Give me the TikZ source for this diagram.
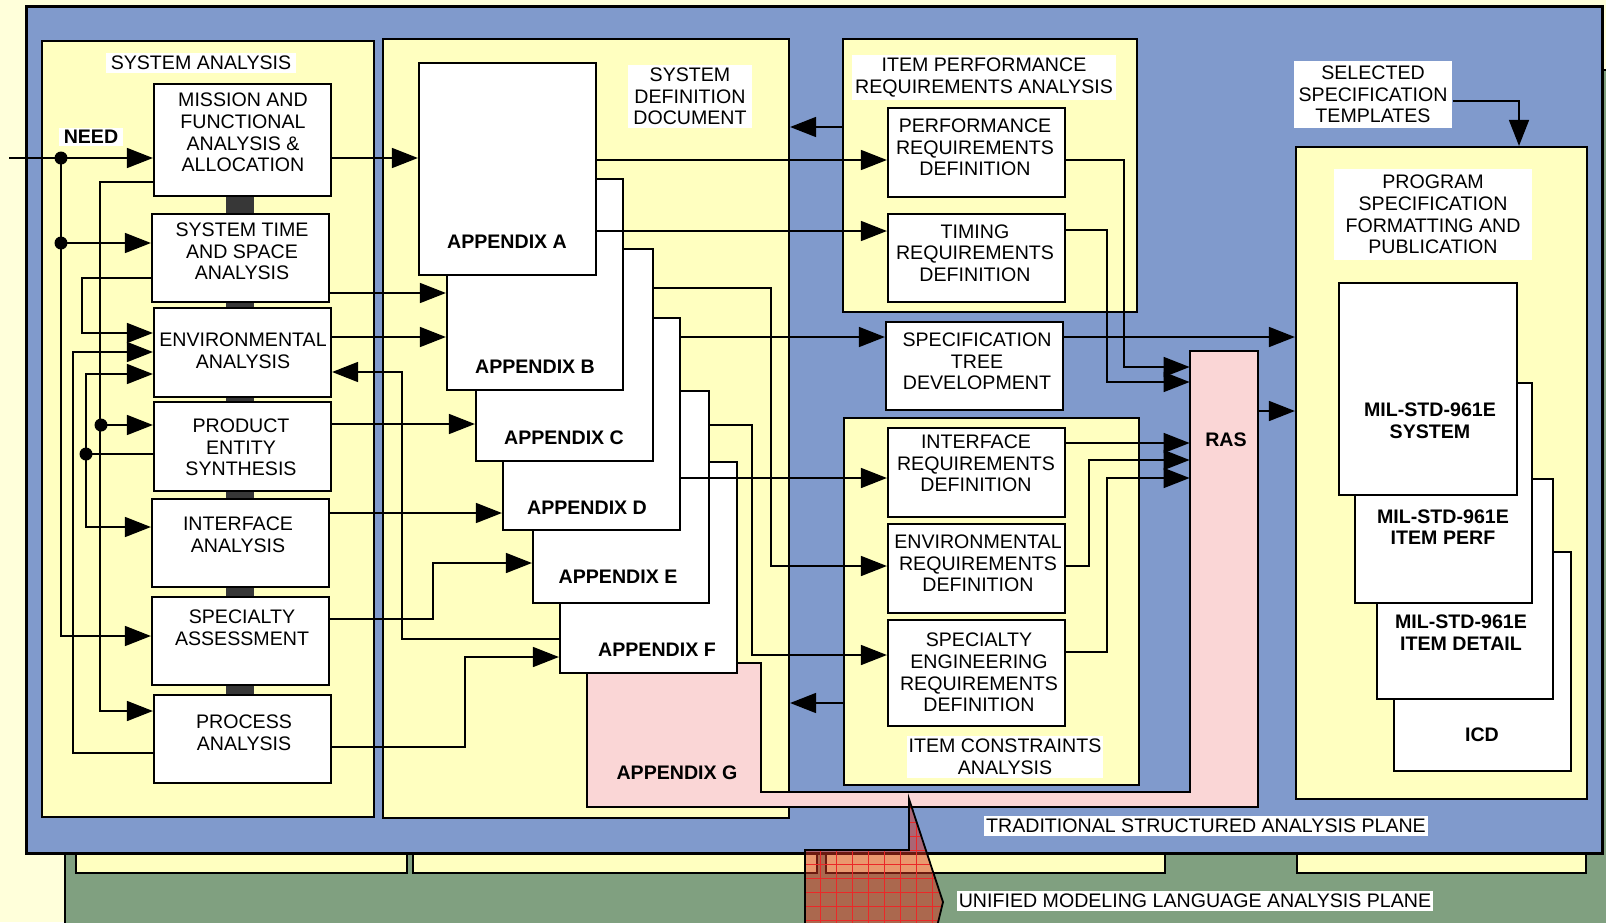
\documentclass[tikz,border=0pt]{standalone}
\usepackage{fontspec}
\setmainfont{Liberation Sans}
\usetikzlibrary{arrows.meta,fit}

\definecolor{cream}{RGB}{255,255,218}
\definecolor{panelyellow}{RGB}{255,255,192}
\definecolor{planeblue}{RGB}{128,154,204}
\definecolor{planegreen}{RGB}{128,160,128}
\definecolor{raspink}{RGB}{250,214,214}
\definecolor{overlayred}{RGB}{215,50,30}
\definecolor{gridred}{RGB}{235,40,40}
\definecolor{barshade}{RGB}{55,55,55}

\tikzset{
  x=0.5pt, y=-0.5pt,
  every node/.style={font=\fontsize{9.8}{10.8}\selectfont},
  frame/.style={draw=black, line width=1.1pt, inner sep=0pt},
  panel/.style={frame, fill=panelyellow},
  whitebox/.style={frame, fill=white},
  txt/.style={align=center, inner sep=0pt},
  btxt/.style={txt, font=\fontsize{9.8}{10.8}\selectfont\bfseries},
  tag/.style={align=center, fill=white, inner xsep=2.5pt, inner ysep=1.5pt},
  conn/.style={draw=black, line width=0.8pt},
  arr/.style={conn, -{Triangle[length=13pt,width=10pt]}},
  junction/.style={circle, fill=black, inner sep=0pt, minimum size=6.5pt},
  hidden/.style={inner sep=0pt}
}

\begin{document}
\begin{tikzpicture}
\useasboundingbox (0,0) rectangle (1606,922);
\clip (0,0) rectangle (1606,922);
\fill[cream] (0,0) rectangle (1606,922);

% ---------- UML analysis plane (behind) ----------
\node[frame, fill=planegreen, fit={(65,70) (1650,960)}] (umlplane) {};
\node[panel, fit={(76,820) (407,873)}] (umlA) {};
\node[panel, fit={(413,820) (817,873)}] (umlB) {};
\node[panel, fit={(826,820) (1165,873)}] (umlC) {};
\node[panel, fit={(1297,820) (1586,873)}] (umlD) {};

% ---------- traditional structured analysis plane ----------
\node[frame, fill=planeblue, line width=1.5pt, fit={(26,6) (1602,853)}] (tsplane) {};

% panels
\node[panel, fit={(42,41) (374,817)}] (sa) {};
\node[panel, fit={(383,39) (789,818)}] (sdd) {};
\node[panel, fit={(843,39) (1137,312)}] (ipra) {};
\node[panel, fit={(844,418) (1139,785)}] (ica) {};
\node[panel, fit={(1296,147) (1587,799)}] (psf) {};

% panel titles
\node[tag] (satitle) at (201,63) {SYSTEM ANALYSIS};
\node[tag] (sddtitle) at (690,96.5) {SYSTEM\\DEFINITION\\DOCUMENT};
\node[tag, inner xsep=1.5pt] (ipratitle) at (984,77.5) {ITEM PERFORMANCE\\REQUIREMENTS ANALYSIS};
\node[tag, inner xsep=1pt] (icatitle) at (1005,757) {ITEM CONSTRAINTS\\ANALYSIS};
\node[tag, inner xsep=6pt, inner ysep=3pt] (psftitle) at (1433,214.5) {PROGRAM\\SPECIFICATION\\FORMATTING AND\\PUBLICATION};
\node[tag, inner ysep=2.5pt] (templates) at (1373,94.5) {SELECTED\\SPECIFICATION\\TEMPLATES};
\node[tag, font=\fontsize{9.8}{10.8}\selectfont\bfseries, inner ysep=1pt] (need) at (91,137) {NEED};

% ---------- system analysis column ----------
\fill[barshade] (226,190) rectangle (254,700);
\node[whitebox, fit={(154,84) (331,196)}] (mission) {};
\node[whitebox, fit={(152,214) (329,302)}] (timespace) {};
\node[whitebox, fit={(154,308) (331,397)}] (envan) {};
\node[whitebox, fit={(154,402) (331,491)}] (product) {};
\node[whitebox, fit={(152,499) (329,587)}] (ifan) {};
\node[whitebox, fit={(152,597) (329,685)}] (specas) {};
\node[whitebox, fit={(154,695) (331,783)}] (process) {};

\node[txt] (t1) at (243,132.5) {MISSION AND\\FUNCTIONAL\\ANALYSIS \&\\ALLOCATION};
\node[txt] (t2) at (242,251.5) {SYSTEM TIME\\AND SPACE\\ANALYSIS};
\node[txt] (t3) at (243,350.5) {ENVIRONMENTAL\\ANALYSIS};
\node[txt] (t4) at (241,447.5) {PRODUCT\\ENTITY\\SYNTHESIS};
\node[txt] (t5) at (238,535) {INTERFACE\\ANALYSIS};
\node[txt] (t6) at (242,627.5) {SPECIALTY\\ASSESSMENT};
\node[txt] (t7) at (244,733) {PROCESS\\ANALYSIS};

% ---------- appendices and RAS ----------
\draw[frame, fill=raspink] (587,663) -- (761,663) -- (761,792) -- (1190,792)
  -- (1190,351) -- (1258,351) -- (1258,807) -- (587,807) -- cycle;
\node[hidden, fit={(587,663) (761,807)}] (appG) {};
\node[hidden, fit={(1190,351) (1258,792)}] (ras) {};
\node[whitebox, fit={(560,462) (737,673)}] (appF) {};
\node[whitebox, fit={(533,391) (709,603)}] (appE) {};
\node[whitebox, fit={(503,318) (680,530)}] (appD) {};
\node[whitebox, fit={(476,249) (653,461)}] (appC) {};
\node[whitebox, fit={(447,179) (623,390)}] (appB) {};
\node[whitebox, fit={(419,63) (596,275)}] (appA) {};

\node[btxt] (lA) at (507,242) {APPENDIX A};
\node[btxt] (lB) at (535,367) {APPENDIX B};
\node[btxt] (lC) at (564,438) {APPENDIX C};
\node[btxt] (lD) at (587,508) {APPENDIX D};
\node[btxt] (lE) at (618,577) {APPENDIX E};
\node[btxt] (lF) at (657,650) {APPENDIX F};
\node[btxt] (lG) at (677,773) {APPENDIX G};
\node[btxt] (lR) at (1226,440) {RAS};

% ---------- requirement definition boxes ----------
\node[whitebox, fit={(888,108) (1065,197)}] (perfreq) {};
\node[whitebox, fit={(888,214) (1065,302)}] (timing) {};
\node[whitebox, fit={(886,322) (1063,410)}] (spectree) {};
\node[whitebox, fit={(888,428) (1065,517)}] (ifreq) {};
\node[whitebox, fit={(888,524) (1065,613)}] (envreq) {};
\node[whitebox, fit={(888,620) (1065,726)}] (speceng) {};

\node[txt] (r1) at (975,147.5) {PERFORMANCE\\REQUIREMENTS\\DEFINITION};
\node[txt] (r2) at (975,253) {TIMING\\REQUIREMENTS\\DEFINITION};
\node[txt] (r3) at (977,361.5) {SPECIFICATION\\TREE\\DEVELOPMENT};
\node[txt] (r4) at (976,463.5) {INTERFACE\\REQUIREMENTS\\DEFINITION};
\node[txt] (r5) at (978,563.5) {ENVIRONMENTAL\\REQUIREMENTS\\DEFINITION};
\node[txt] (r6) at (979,672.5) {SPECIALTY\\ENGINEERING\\REQUIREMENTS\\DEFINITION};

% ---------- specification documents ----------
\node[whitebox, fit={(1394,552) (1571,771)}] (icd) {};
\node[whitebox, fit={(1377,479) (1553,699)}] (mildetail) {};
\node[whitebox, fit={(1355,383) (1532,603)}] (milperf) {};
\node[whitebox, fit={(1339,283) (1517,495)}] (milsys) {};
\node[btxt] (d1) at (1430,420.5) {MIL-STD-961E\\SYSTEM};
\node[btxt] (d2) at (1443,527) {MIL-STD-961E\\ITEM PERF};
\node[btxt] (d3) at (1461,632.5) {MIL-STD-961E\\ITEM DETAIL};
\node[btxt] (d4) at (1482,735) {ICD};

% ---------- connectors: system analysis ----------
\coordinate (needsrc) at (9,158);
\node[junction] (j1) at (61,158) {};
\node[junction] (j2) at (61,243) {};
\node[junction] (j3) at (101,425) {};
\node[junction] (j4) at (86,454) {};

\draw[arr] (needsrc) -- (mission.west |- 0,158);
\draw[arr] (j1.center) -- (61,636) -- (specas.west |- 0,636);
\draw[arr] (j2.center) -- (timespace.west |- 0,243);
\draw[arr] (mission.west |- 0,182) -- (100,182) -- (100,711) -- (process.west |- 0,711);
\draw[arr] (j3.center) -- (product.west |- 0,425);
\draw[arr] (timespace.west |- 0,278) -- (82,278) -- (82,333) -- (envan.west |- 0,333);
\draw[arr] (process.west |- 0,753) -- (73,753) -- (73,352) -- (envan.west |- 0,352);
\draw[arr] (product.west |- 0,454) -- (86,454) -- (86,374) -- (envan.west |- 0,374);
\draw[arr] (j4.center) -- (86,527) -- (ifan.west |- 0,527);
\draw[arr] (appF.west |- 0,639) -- (402,639) -- (402,372) -- (envan.east |- 0,372);

% system analysis to appendices
\draw[arr] (mission.east |- 0,158) -- (appA.west |- 0,158);
\draw[arr] (timespace.east |- 0,293) -- (appB.west |- 0,293);
\draw[arr] (envan.east |- 0,337) -- (appB.west |- 0,337);
\draw[arr] (product.east |- 0,424) -- (appC.west |- 0,424);
\draw[arr] (ifan.east |- 0,513) -- (appD.west |- 0,513);
\draw[arr] (specas.east |- 0,619) -- (433,619) -- (433,563) -- (appE.west |- 0,563);
\draw[arr] (process.east |- 0,747) -- (465,747) -- (465,657) -- (appF.west |- 0,657);

% appendices to requirement definition
\draw[arr] (appA.east |- 0,160) -- (perfreq.west |- 0,160);
\draw[arr] (appA.east |- 0,231) -- (timing.west |- 0,231);
\draw[arr] (appC.east |- 0,288) -- (771,288) -- (771,566) -- (envreq.west |- 0,566);
\draw[arr] (appD.east |- 0,337) -- (spectree.west |- 0,337);
\draw[arr] (appD.east |- 0,478) -- (ifreq.west |- 0,478);
\draw[arr] (appE.east |- 0,425) -- (752,425) -- (752,655) -- (speceng.west |- 0,655);
\draw[arr] (ipra.west |- 0,127) -- (sdd.east |- 0,127);
\draw[arr] (ica.west |- 0,703) -- (sdd.east |- 0,703);

% requirement definition to RAS and publication
\draw[arr] (perfreq.east |- 0,160) -- (1124,160) -- (1124,367) -- (ras.west |- 0,367);
\draw[arr] (timing.east |- 0,230) -- (1107,230) -- (1107,382) -- (ras.west |- 0,382);
\draw[arr] (spectree.east |- 0,337) -- (psf.west |- 0,337);
\draw[arr] (ras.east |- 0,411) -- (psf.west |- 0,411);
\draw[arr] (ifreq.east |- 0,443) -- (ras.west |- 0,443);
\draw[arr] (envreq.east |- 0,566) -- (1089,566) -- (1089,460) -- (ras.west |- 0,460);
\draw[arr] (speceng.east |- 0,652) -- (1107,652) -- (1107,478) -- (ras.west |- 0,478);
\draw[arr] (templates.east |- 0,101) -- (1519,101) -- (psf.north -| 1519,0);

% ---------- link between the two planes ----------
\begin{scope}
  \clip (805,935) -- (805,850) -- (909,850) -- (909,799) -- (943,902) -- (935,935) -- cycle;
  \fill[overlayred, opacity=0.5] (790,790) rectangle (960,935);
  \foreach \gx in {820,836,...,940} \draw[gridred, line width=0.3pt] (\gx,790) -- (\gx,935);
  \foreach \gy in {808,822,...,934} \draw[gridred, line width=0.3pt] (790,\gy) -- (960,\gy);
\end{scope}
\draw[black, line width=0.9pt] (805,935) -- (805,850) -- (909,850) -- (909,799) -- (943,902) -- (935,935);

% ---------- plane labels ----------
\node[tag, inner xsep=1pt, inner ysep=1.5pt] (tsalabel) at (1206,826) {TRADITIONAL STRUCTURED ANALYSIS PLANE};
\node[tag, inner xsep=1pt, inner ysep=1.5pt] (umllabel) at (1195,901) {UNIFIED MODELING LANGUAGE ANALYSIS PLANE};
\end{tikzpicture}
\end{document}
